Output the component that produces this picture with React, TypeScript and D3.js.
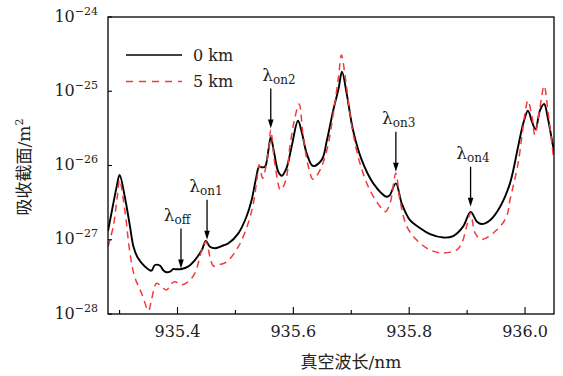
import React from "react";
import * as d3 from "d3";

const W = 563;
const H = 376;
const plot = { left: 108, right: 554, top: 17, bottom: 314 };

// 0 km series (wavelength in nm, absorption cross-section in m^2)
const wl0km = [935.280, 935.288, 935.295, 935.300, 935.309, 935.318, 935.324, 935.332, 935.344, 935.355, 935.361, 935.370, 935.375, 935.381, 935.387, 935.393, 935.398, 935.407, 935.418, 935.430, 935.442, 935.449, 935.456, 935.465, 935.479, 935.488, 935.505, 935.519, 935.528, 935.535, 935.541, 935.545, 935.551, 935.557, 935.561, 935.567, 935.574, 935.580, 935.588, 935.597, 935.608, 935.615, 935.623, 935.634, 935.649, 935.658, 935.669, 935.678, 935.684, 935.692, 935.703, 935.718, 935.738, 935.761, 935.766, 935.777, 935.787, 935.801, 935.819, 935.836, 935.859, 935.876, 935.893, 935.906, 935.917, 935.925, 935.940, 935.957, 935.974, 935.988, 935.997, 936.005, 936.012, 936.018, 936.026, 936.033, 936.040, 936.048, 936.052];
const sigma0km = [1.31e-27, 2.76e-27, 5.19e-27, 7.45e-27, 3.80e-27, 1.50e-27, 8.05e-28, 5.62e-28, 4.34e-28, 3.83e-28, 4.57e-28, 4.47e-28, 3.92e-28, 3.65e-28, 3.72e-28, 4.04e-28, 4.00e-28, 4.04e-28, 4.34e-28, 5.33e-28, 7.28e-28, 9.62e-28, 8.05e-28, 7.67e-28, 8.37e-28, 8.95e-28, 1.22e-27, 2.04e-27, 3.43e-27, 6.38e-27, 9.64e-27, 9.46e-27, 9.64e-27, 1.62e-26, 2.40e-26, 1.46e-26, 8.24e-27, 7.29e-27, 9.16e-27, 1.79e-26, 4.01e-26, 2.72e-26, 1.46e-26, 9.84e-27, 1.19e-26, 2.20e-26, 5.58e-26, 1.08e-25, 1.83e-25, 9.38e-26, 3.01e-26, 1.19e-26, 5.75e-27, 3.80e-27, 3.94e-27, 5.75e-27, 3.10e-27, 1.85e-27, 1.43e-27, 1.19e-27, 1.07e-27, 1.12e-27, 1.50e-27, 2.37e-27, 1.75e-27, 1.63e-27, 1.85e-27, 2.79e-27, 5.75e-27, 1.79e-26, 3.70e-26, 5.47e-26, 3.89e-26, 3.08e-26, 5.58e-26, 6.73e-26, 4.10e-26, 1.89e-26, 1.40e-26];

// 5 km series
const wl5km = [935.280, 935.289, 935.296, 935.300, 935.309, 935.318, 935.326, 935.338, 935.350, 935.355, 935.364, 935.373, 935.381, 935.390, 935.396, 935.407, 935.418, 935.430, 935.442, 935.449, 935.456, 935.462, 935.470, 935.485, 935.505, 935.522, 935.531, 935.537, 935.541, 935.547, 935.552, 935.558, 935.561, 935.568, 935.578, 935.587, 935.594, 935.603, 935.610, 935.617, 935.626, 935.634, 935.646, 935.658, 935.669, 935.678, 935.683, 935.691, 935.701, 935.715, 935.732, 935.750, 935.759, 935.767, 935.777, 935.784, 935.796, 935.813, 935.836, 935.859, 935.882, 935.891, 935.899, 935.906, 935.914, 935.925, 935.951, 935.968, 935.974, 935.988, 936.000, 936.005, 936.012, 936.017, 936.026, 936.033, 936.040, 936.049];
const sigma5km = [8.05e-28, 1.50e-27, 3.80e-27, 6.38e-27, 2.52e-27, 6.58e-28, 3.18e-28, 1.90e-28, 1.11e-28, 1.55e-28, 2.59e-28, 2.33e-28, 2.10e-28, 2.59e-28, 2.72e-28, 2.46e-28, 2.72e-28, 3.53e-28, 7.28e-28, 9.42e-28, 5.92e-28, 4.43e-28, 4.57e-28, 5.06e-28, 8.05e-28, 1.67e-27, 3.10e-27, 6.38e-27, 1.02e-26, 6.73e-27, 9.16e-27, 1.79e-26, 3.01e-26, 1.07e-26, 4.68e-27, 6.38e-27, 1.79e-26, 4.54e-26, 6.73e-26, 2.44e-26, 9.64e-27, 6.52e-27, 8.69e-27, 1.62e-26, 5.05e-26, 1.57e-25, 3.08e-25, 1.28e-25, 3.33e-26, 1.07e-26, 4.68e-27, 2.79e-27, 2.39e-27, 3.10e-27, 7.85e-27, 3.43e-27, 1.50e-27, 9.93e-28, 7.28e-28, 6.64e-28, 7.28e-28, 9.04e-28, 1.50e-27, 2.29e-27, 1.22e-27, 1.01e-27, 1.35e-27, 2.04e-27, 3.43e-27, 1.07e-26, 5.05e-26, 7.46e-26, 4.54e-26, 2.58e-26, 6.19e-26, 1.18e-25, 5.05e-26, 1.32e-26];

const seriesNames = ["0 km", "5 km"];
const xMajorTicks = [935.4, 935.6, 935.8, 936.0];
const xMinorTicks = [935.3, 935.5, 935.7, 935.9];
const yTickExponents = [-24, -25, -26, -27, -28];

// annotations: subscript label, arrow wavelength, arrow tip value, label-centre wavelength
const annSub = ["off", "on1", "on2", "on3", "on4"];
const annWl = [935.406, 935.451, 935.561, 935.777, 935.906];
const annTip = [4.1e-28, 1.0e-27, 3.15e-26, 8.24e-27, 2.79e-27];
const annLabelWl = [935.399, 935.449, 935.575, 935.782, 935.910];

const serif = "'DejaVu Serif', 'Liberation Serif', serif";
const cjk = "'DejaVu Serif', 'Noto Sans CJK SC', serif";

export default function App() {
  const x = d3.scaleLinear().domain([935.28, 936.05]).range([plot.left, plot.right]);
  const y = d3.scaleLog().domain([1e-28, 1e-24]).range([plot.bottom, plot.top]);

  const line = d3
    .line<[number, number]>()
    .x((d) => x(d[0]))
    .y((d) => y(d[1]))
    .curve(d3.curveCatmullRom.alpha(0.5));

  const d0 = line(wl0km.map((w, i) => [w, sigma0km[i]] as [number, number])) || "";
  const d5 = line(wl5km.map((w, i) => [w, sigma5km[i]] as [number, number])) || "";

  const red = "#f23a3a";

  return (
    <svg width={W} height={H} style={{ position: "absolute", left: 0, top: 0, background: "#fff" }}>
      <defs>
        <clipPath id="plotclip">
          <rect x={plot.left} y={plot.top - 2} width={plot.right - plot.left} height={plot.bottom - plot.top + 2} />
        </clipPath>
      </defs>

      {/* curves */}
      <g clipPath="url(#plotclip)">
        <path d={d0} fill="none" stroke="#000" strokeWidth={1.9} strokeLinejoin="round" />
        <path d={d5} fill="none" stroke={red} strokeWidth={1.5} strokeDasharray="7,5" />
      </g>

      {/* frame */}
      <rect x={plot.left} y={plot.top} width={plot.right - plot.left} height={plot.bottom - plot.top} fill="none" stroke="#000" strokeWidth={1.3} />

      {/* x ticks */}
      {xMajorTicks.map((t) => (
        <g key={"xM" + t}>
          <line x1={x(t)} x2={x(t)} y1={plot.bottom} y2={plot.bottom - 7} stroke="#000" strokeWidth={1.1} />
          <text x={x(t)} y={337} textAnchor="middle" fontFamily={serif} fontSize={16} fill="#222">
            {t.toFixed(1)}
          </text>
        </g>
      ))}
      {xMinorTicks.map((t) => (
        <line key={"xm" + t} x1={x(t)} x2={x(t)} y1={plot.bottom} y2={plot.bottom - 4} stroke="#000" strokeWidth={1.1} />
      ))}

      {/* y ticks */}
      {yTickExponents.map((e) => {
        const yy = y(Math.pow(10, e));
        return (
          <g key={"y" + e}>
            <line x1={plot.left} x2={plot.left + 4} y1={yy} y2={yy} stroke="#000" strokeWidth={1.1} />
            <text x={98} y={yy + 4.5} textAnchor="end" fontFamily={serif} fill="#222">
              <tspan fontSize={16}>10</tspan>
              <tspan fontSize={11} dy={-7}>{"\u2212" + Math.abs(e)}</tspan>
            </text>
          </g>
        );
      })}

      {/* legend */}
      <line x1={126} x2={182} y1={55} y2={55} stroke="#000" strokeWidth={1.6} />
      <text x={193} y={60.5} fontFamily={serif} fontSize={16} fill="#222">{seriesNames[0]}</text>
      <line x1={126} x2={182} y1={81.5} y2={81.5} stroke={red} strokeWidth={1.5} strokeDasharray="7,6" />
      <text x={193} y={87} fontFamily={serif} fontSize={16} fill="#222">{seriesNames[1]}</text>

      {/* annotations */}
      {annSub.map((s, i) => {
        const ax = x(annWl[i]);
        const tipY = y(annTip[i]);
        const topY = tipY - 40;
        const head = 9;
        return (
          <g key={"a" + s}>
            <line x1={ax} x2={ax} y1={topY} y2={tipY - head + 1} stroke="#000" strokeWidth={1.3} />
            <path d={`M${ax - 2.8},${tipY - head} L${ax + 2.8},${tipY - head} L${ax},${tipY} Z`} fill="#000" />
            <text x={x(annLabelWl[i])} y={topY - 8} textAnchor="middle" fontFamily={serif} fill="#222">
              <tspan fontSize={17}>λ</tspan>
              <tspan fontSize={12} dy={3}>{s}</tspan>
            </text>
          </g>
        );
      })}

      {/* axis titles */}
      <text x={351} y={368} textAnchor="middle" fontFamily={cjk} fontSize={17} fill="#222">
        真空波长/nm
      </text>
      <text transform="translate(30,167) rotate(-90)" textAnchor="middle" fontFamily={cjk} fontSize={17} fill="#222">
        吸收截面/m<tspan fontSize={11} dy={-7}>2</tspan>
      </text>
    </svg>
  );
}
